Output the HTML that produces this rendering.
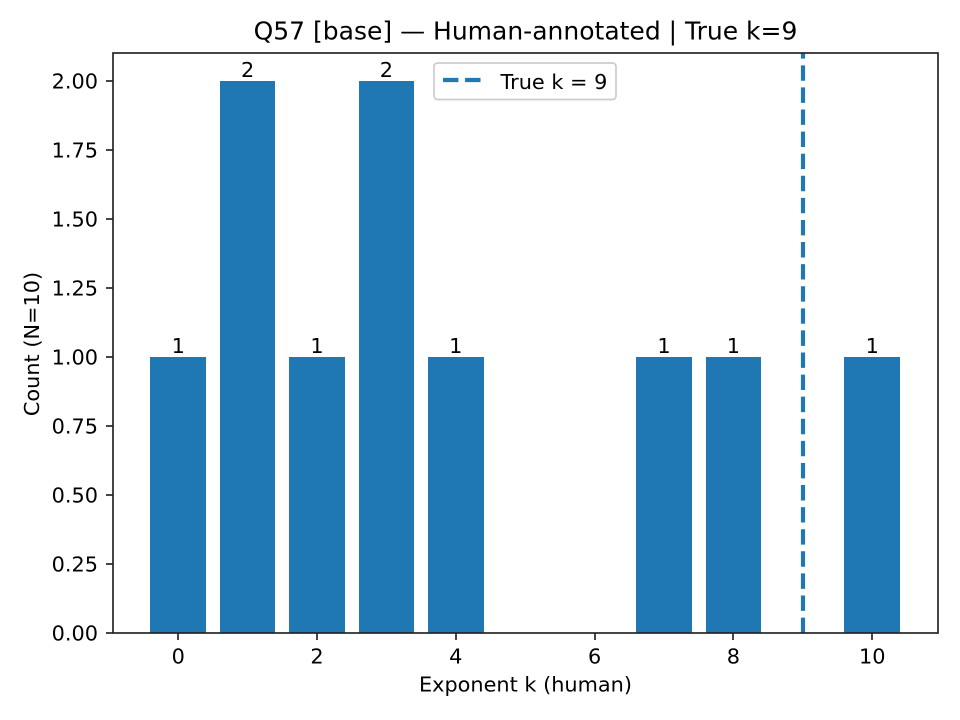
<!DOCTYPE html>
<html>
<head>
<meta charset="utf-8">
<style>
html,body{margin:0;padding:0;background:#fff;}
svg{display:block;}
text{font-family:"DejaVu Sans",sans-serif;fill:#000;}
</style>
</head>
<body>
<svg id="chart" xmlns="http://www.w3.org/2000/svg" width="960" height="720" viewBox="0 0 960 720">
<rect x="0" y="0" width="960" height="720" fill="#fff"/>
<text x="525.5" y="39.5" text-anchor="middle" font-size="25">Q57 [base] — Human-annotated | True k=9</text>
<text x="525.5" y="691.5" text-anchor="middle" font-size="20.83">Exponent k (human)</text>
<text transform="translate(39,344) rotate(-90)" text-anchor="middle" font-size="20.83">Count (N=10)</text>
<g id="bars"></g>
<g id="bar-labels"></g>
<g id="x-ticks"></g>
<g id="y-ticks"></g>
<line id="true-line" stroke="#1f77b4" stroke-width="4.17" stroke-dasharray="15.42 6.67"/>
<rect x="113" y="53" width="825" height="580" fill="none" stroke="#222" stroke-width="1.67"/>
<g>
<rect x="434" y="63" width="182" height="36.5" rx="3.5" fill="#fff" fill-opacity="0.8" stroke="#ccc" stroke-width="1.67"/>
<line x1="443" y1="80" x2="481" y2="80" stroke="#1f77b4" stroke-width="4.17" stroke-dasharray="15.42 6.67"/>
<text x="500.5" y="89" font-size="20.83">True k = 9</text>
</g>
</svg>
<script>
const categories = [0, 1, 2, 3, 4, 7, 8, 10];
const counts = [1, 2, 1, 2, 1, 1, 1, 1];
const xTickValues = [0, 2, 4, 6, 8, 10];
const yTickValues = [0, 0.25, 0.5, 0.75, 1, 1.25, 1.5, 1.75, 2];
const yTickLabels = ["0.00", "0.25", "0.50", "0.75", "1.00", "1.25", "1.50", "1.75", "2.00"];
const trueK = 9;
const barWidth = 0.8;

const NS = "http://www.w3.org/2000/svg";
const xScale = v => 178.2 + v * 69.4;
const yScale = v => 633 - v * 276;

function make(tag, attrs, parent, text) {
  const el = document.createElementNS(NS, tag);
  for (const k in attrs) el.setAttribute(k, attrs[k]);
  if (text !== undefined) el.textContent = text;
  parent.appendChild(el);
  return el;
}

const barsG = document.getElementById("bars");
const labelsG = document.getElementById("bar-labels");
categories.forEach((c, i) => {
  const x0 = Math.round(xScale(c - barWidth / 2));
  const x1 = Math.round(xScale(c + barWidth / 2));
  const top = Math.round(yScale(counts[i]));
  const bar = make("rect", {x: x0, y: top, width: x1 - x0, height: yScale(0) - top, fill: "#1f77b4"}, barsG);
  
  
  const label = make("text", {x: xScale(c), y: yScale(counts[i]) - 4, "text-anchor": "middle", "font-size": 20.83}, labelsG, String(counts[i]));
  
  
});

const xG = document.getElementById("x-ticks");
xTickValues.forEach(v => {
  const tx = Math.round(xScale(v));
  const mark = make("line", {x1: tx, x2: tx, y1: 633, y2: 640, stroke: "#222", "stroke-width": 1.67}, xG);
  
  
  const label = make("text", {x: xScale(v), y: 663.5, "text-anchor": "middle", "font-size": 20.83}, xG, String(v));
  
  
});

const yG = document.getElementById("y-ticks");
yTickValues.forEach((v, i) => {
  const mark = make("line", {x1: 106, x2: 113, y1: yScale(v), y2: yScale(v), stroke: "#222", "stroke-width": 1.67}, yG);
  
  
  const label = make("text", {x: 98, y: yScale(v) + 7.5, "text-anchor": "end", "font-size": 20.83}, yG, yTickLabels[i]);
  
  
});

const tl = document.getElementById("true-line");
const lx = Math.round(xScale(trueK));
tl.setAttribute("x1", lx);
tl.setAttribute("x2", lx);
tl.setAttribute("y1", 633);
tl.setAttribute("y2", 53);
</script>
</body>
</html>
